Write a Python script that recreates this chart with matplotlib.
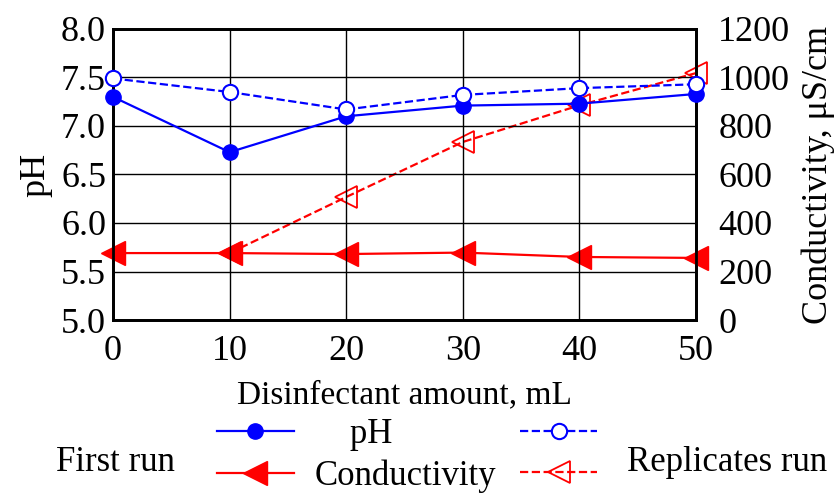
import matplotlib.pyplot as plt
from matplotlib.ticker import MultipleLocator

plt.rcParams['font.family'] = ['Liberation Serif', 'DejaVu Serif']

amount = [0, 10, 20, 30, 40, 50]
ph_first = [7.30, 6.73, 7.10, 7.21, 7.23, 7.33]
ph_repl = [7.49, 7.35, 7.17, 7.32, 7.39, 7.43]
cond_first = [276, 276, 272, 278, 260, 256]
amount_repl = [10, 20, 30, 40, 50]
cond_repl = [276, 507, 734, 885, 1018]

fig = plt.figure(figsize=(8.4, 4.95), dpi=100)
ax = fig.add_axes([0.1345, 0.3535, 0.694, 0.588])
ax2 = ax.twinx()

l_ph1, = ax.plot(amount, ph_first, '-o', color='#0000ff', lw=1.6, ms=11, clip_on=False, zorder=3)
l_ph2, = ax.plot(amount, ph_repl, '--o', color='#0000ff', lw=1.6, ms=11, mfc='white', mew=1.5,
                 clip_on=False, zorder=3)
l_c2, = ax2.plot(amount_repl, cond_repl, '--<', color='#ff0000', lw=1.6, ms=16, mfc='none', mew=1.3,
                 clip_on=False, zorder=3)
l_c1, = ax2.plot(amount, cond_first, '-<', color='#ff0000', lw=1.6, ms=17, clip_on=False, zorder=4)

ax.set_xlim(0, 50)
ax.set_ylim(5.0, 8.0)
ax2.set_ylim(0, 1200)
ax.xaxis.set_major_locator(MultipleLocator(10))
ax.yaxis.set_major_locator(MultipleLocator(0.5))
ax2.yaxis.set_major_locator(MultipleLocator(200))
ax.yaxis.set_major_formatter(plt.FormatStrFormatter('%.1f'))
ax.grid(True, color='black', lw=1.0)
for a in (ax, ax2):
    a.tick_params(length=0, labelsize=26, pad=5)
    for s in a.spines.values():
        s.set_linewidth(2)
ax.tick_params(axis='x', pad=11)
ax2.tick_params(axis='y', pad=16)
ax.set_zorder(ax2.get_zorder() + 1)
ax.patch.set_visible(False)

ax.set_xlabel('Disinfectant amount, mL', fontsize=24, labelpad=8)
ax.set_ylabel('pH', fontsize=26, labelpad=6)
ax2.set_ylabel('Conductivity, μS/cm', fontsize=26, labelpad=8)

fig.legend([l_ph1, l_c1, l_ph2, l_c2], ['    pH', 'Conductivity', '', ''],
           ncol=2, loc='center', bbox_to_anchor=(0.497, 0.08), frameon=False, fontsize=25,
           handlelength=2.2, handletextpad=0.6, columnspacing=0.7, labelspacing=0.25)
fig.text(0.137, 0.066, 'First run', fontsize=25, ha='center', va='center')
fig.text(0.865, 0.066, 'Replicates run', fontsize=25, ha='center', va='center')

fig.savefig('out.png', dpi=100)
